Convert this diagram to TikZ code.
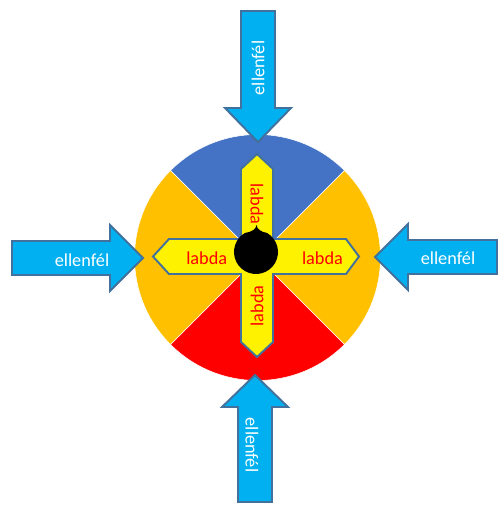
\documentclass[tikz,border=0pt]{standalone}
\usepackage{fontspec}
\setmainfont{Carlito}
\usetikzlibrary{calc}
\definecolor{pitchblue}{HTML}{4472C4}
\definecolor{pitchorange}{HTML}{FFC000}
\definecolor{pitchred}{HTML}{FF0000}
\definecolor{foeblue}{HTML}{00B0F0}
\definecolor{edgeblue}{HTML}{41719C}
\newcommand{\labelfont}{\fontsize{10.4}{12}\selectfont}

\begin{document}
\begin{tikzpicture}[x=0.02cm, y=-0.02cm,
    sector/.style={draw=white, line width=0.3pt},
    foe/.style={fill=foeblue, draw=edgeblue, line width=1.1pt},
    foetext/.style={text=white, font=\labelfont, inner sep=0pt},
    bar/.style={fill=yellow, draw=edgeblue, line width=1.1pt},
    bartext/.style={text=red, font=\labelfont, inner sep=0pt},
  ]
    \useasboundingbox (0,0) rectangle (499,505);
    \coordinate (c) at (257.5,257.5);
    \coordinate (b) at (256,252);

    % pitch
    \filldraw[sector, fill=pitchblue]   (c) -- ++(225:123) arc[start angle=225, end angle=315, radius=123] -- cycle;
    \filldraw[sector, fill=pitchorange] (c) -- ++(-45:123) arc[start angle=-45, end angle=45, radius=123] -- cycle;
    \filldraw[sector, fill=pitchred]    (c) -- ++(45:123) arc[start angle=45, end angle=135, radius=123] -- cycle;
    \filldraw[sector, fill=pitchorange] (c) -- ++(135:123) arc[start angle=135, end angle=225, radius=123] -- cycle;

    % cross of the ball
    \draw[bar] (257,154) -- (273,169) -- (273,239) -- (346,239) -- (359,256.5)
      -- (346,274) -- (273,274) -- (273,342) -- (257,357) -- (241,342)
      -- (241,274) -- (169,274) -- (153,256.5) -- (169,239) -- (241,239)
      -- (241,169) -- cycle;
    \node[bartext]            (labdaW) at (206.7,258) {labda};
    \node[bartext]            (labdaE) at (322.5,258) {labda};
    \node[bartext, rotate=-90] (labdaN) at (257,204) {labda};
    \node[bartext, rotate=90]  (labdaS) at (257,306) {labda};

    \fill (256.5,225) .. controls (257,229) and (261,232) .. ($(b)+(-60:22)$)
      arc[start angle=-60, end angle=240, radius=22]
      .. controls (252,232) and (256,229) .. (256.5,225) -- cycle;

    % the four opponents
    \draw[foe] (12,241) -- (110,241) -- (110,225) -- (143,258) -- (110,291) -- (110,275) -- (12,275) -- cycle;
    \draw[foe] (497,240) -- (408,240) -- (408,224) -- (375,257) -- (408,290) -- (408,274) -- (497,274) -- cycle;
    \draw[foe] (241,11) -- (241,108) -- (225,108) -- (258,142) -- (291,108) -- (275,108) -- (275,11) -- cycle;
    \draw[foe] (238,502) -- (238,407) -- (222,407) -- (255,375) -- (288,407) -- (272,407) -- (272,502) -- cycle;

    \node[foetext]             (foeW) at (82,260)  {ellenfél};
    \node[foetext]             (foeE) at (448,258) {ellenfél};
    \node[foetext, rotate=90]  (foeN) at (258,68)  {ellenfél};
    \node[foetext, rotate=-90] (foeS) at (252,445) {ellenfél};
\end{tikzpicture}
\end{document}
